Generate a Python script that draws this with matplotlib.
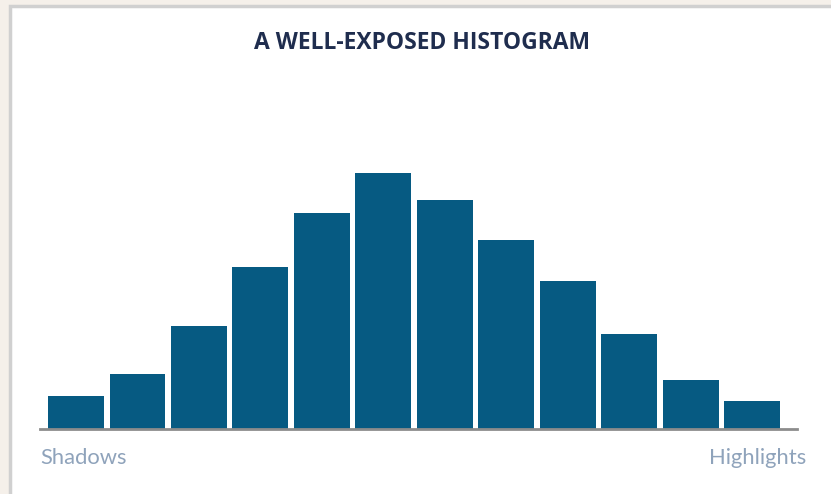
import matplotlib
matplotlib.use("Agg")
import matplotlib.pyplot as plt
from matplotlib.patches import Rectangle

# ========= data =========
TITLE = "A WELL-EXPOSED HISTOGRAM"
LEFT_LABEL = "Shadows"
RIGHT_LABEL = "Highlights"
bins = list(range(12))
counts = [33, 55, 103, 162, 216, 256, 229, 189, 148, 95, 49, 28]
# ===============================================

W, H = 831, 494
BAR_COLOR = "#065a82"
TITLE_COLOR = "#1f2d4e"
LABEL_COLOR = "#8fa3bb"

fig = plt.figure(figsize=(W / 100, H / 100), dpi=100)
fig.patch.set_facecolor("#f5f0ea")

# white card with grey border on left/top (runs off right and bottom)
card = Rectangle((10 / W, -0.1), 1.0, 1.1 - 6 / H, transform=fig.transFigure,
                 facecolor="white", edgecolor="#d0d0d0", linewidth=2.5,
                 zorder=-10)
fig.patches.append(card)

ax_left, ax_right = 40 / W, 797 / W
ax_bottom, ax_top = (H - 429) / H, (H - 150) / H
ax = fig.add_axes([ax_left, ax_bottom, ax_right - ax_left, ax_top - ax_bottom])
ax.set_facecolor("none")
ax.set_zorder(1)

ax.bar(bins, counts, width=0.91, color=BAR_COLOR, zorder=2)
ax.set_xlim(-0.586, 11.73)
ax.set_ylim(0, 279)

for s in ["top", "right", "left"]:
    ax.spines[s].set_visible(False)
ax.spines["bottom"].set_color("#8c8c8c")
ax.spines["bottom"].set_linewidth(2)
ax.spines["bottom"].set_zorder(3)
ax.set_xticks([])
ax.set_yticks([])

fig.text(422 / W, 1 - 43 / H, TITLE, ha="center", va="center",
         fontsize=16.5, fontweight="bold", color=TITLE_COLOR,
         family=["Open Sans", "DejaVu Sans"])
fig.text(40 / W, 1 - 458 / H, LEFT_LABEL, ha="left", va="center",
         fontsize=15.8, color=LABEL_COLOR, family=["Lato", "DejaVu Sans"])
fig.text(806 / W, 1 - 458 / H, RIGHT_LABEL, ha="right", va="center",
         fontsize=15.8, color=LABEL_COLOR, family=["Lato", "DejaVu Sans"])

fig.savefig("out.png", dpi=100, facecolor=fig.get_facecolor())
